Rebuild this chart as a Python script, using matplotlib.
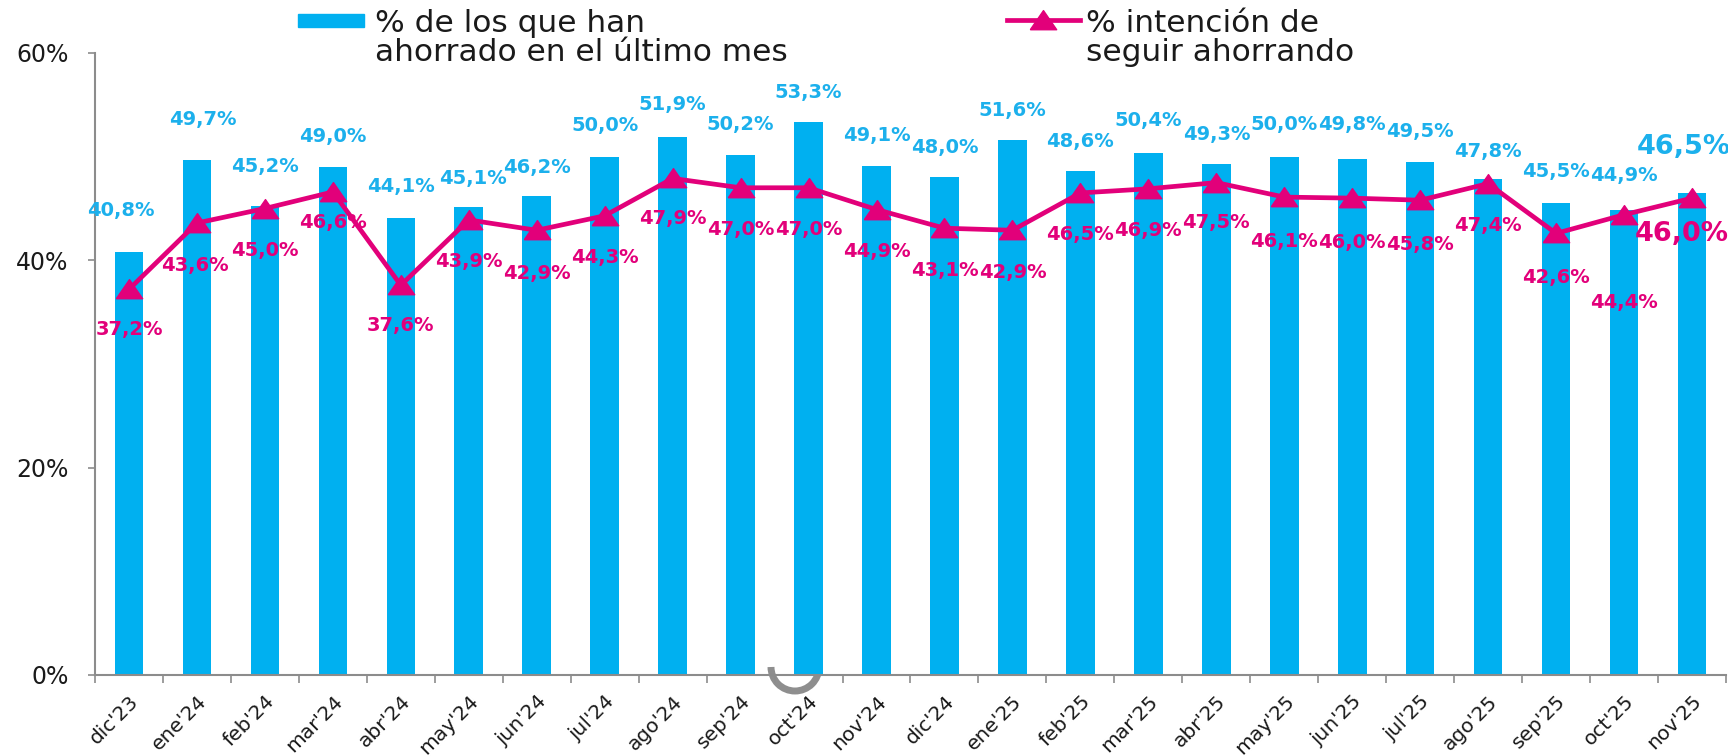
import matplotlib
matplotlib.use("Agg")
import matplotlib.pyplot as plt
from matplotlib.patches import Rectangle, Arc
from matplotlib.lines import Line2D
from matplotlib.transforms import IdentityTransform

# ---- data ----
categories = ["dic'23", "ene'24", "feb'24", "mar'24", "abr'24", "may'24", "jun'24",
              "jul'24", "ago'24", "sep'24", "oct'24", "nov'24", "dic'24", "ene'25",
              "feb'25", "mar'25", "abr'25", "may'25", "jun'25", "jul'25", "ago'25",
              "sep'25", "oct'25", "nov'25"]
ahorrado = [40.8, 49.7, 45.2, 49.0, 44.1, 45.1, 46.2, 50.0, 51.9, 50.2, 53.3, 49.1,
            48.0, 51.6, 48.6, 50.4, 49.3, 50.0, 49.8, 49.5, 47.8, 45.5, 44.9, 46.5]
intencion = [37.2, 43.6, 45.0, 46.6, 37.6, 43.9, 42.9, 44.3, 47.9, 47.0, 47.0, 44.9,
             43.1, 42.9, 46.5, 46.9, 47.5, 46.1, 46.0, 45.8, 47.4, 42.6, 44.4, 46.0]
yticks = [0, 20, 40, 60]
ytick_labels = ["0%", "20%", "40%", "60%"]
legend_bar = "% de los que han\nahorrado en el último mes"
legend_line = "% intención de\nseguir ahorrando"

# ---- style ----
BAR_C = "#00B0F0"
LINE_C = "#E2007A"
LBL_C = "#1CB0EC"
AXIS_C = "#8C8C8C"
TRI = [(-1, -0.7), (1, -0.7), (0, 0.75), (-1, -0.7)]

def fmt(v):
    return f"{v:.1f}%".replace(".", ",")

W, H = 1728, 756
fig = plt.figure(figsize=(W / 100, H / 100), dpi=100)
ax_l, ax_r, ax_t, ax_b = 95, 1726, 53, 675
ax = fig.add_axes([ax_l / W, 1 - ax_b / H, (ax_r - ax_l) / W, (ax_b - ax_t) / H])

x = list(range(len(categories)))
ax.bar(x, ahorrado, width=0.42, color=BAR_C, zorder=2)
ax.plot(x, intencion, color=LINE_C, lw=3.4, marker=TRI, markersize=19,
        markeredgecolor=LINE_C, zorder=3, clip_on=False)

ax.set_xlim(-0.5, len(categories) - 0.5)
ax.set_ylim(0, 60)

for s in ["top", "right"]:
    ax.spines[s].set_visible(False)
for s in ["left", "bottom"]:
    ax.spines[s].set_color(AXIS_C)
    ax.spines[s].set_linewidth(1.5)

ax.set_yticks(yticks)
ax.set_yticklabels(ytick_labels, fontsize=17, color="#1a1a1a")
ax.tick_params(axis="y", length=5, width=1.2, color=AXIS_C, pad=14)

ax.set_xticks(x)
ax.set_xticklabels(categories, rotation=45, ha="right", va="top",
                   rotation_mode="anchor", fontsize=14.5, color="#1a1a1a")
ax.tick_params(axis="x", which="major", length=0, pad=12)
ax.set_xticks([i - 0.5 for i in range(len(categories) + 1)], minor=True)
ax.tick_params(axis="x", which="minor", length=6, width=1.2, color=AXIS_C)

# ---- data labels ----
bar_dy = [42, 40, 40, 31, 31, 29, 29, 31, 32, 30, 30, 30,
          30, 30, 30, 32, 29, 32, 34, 30, 28, 32, 34, 46]
bar_dx = [-8, 6, 0, 0, 0, 4, 0, 0, 0, 0, 0, 0,
          0, 0, 0, 0, 0, 0, 0, 0, 0, 0, 0, -8]
line_dy = [40, 42, 42, 31, 40, 42, 43, 42, 40, 42, 42, 42,
           42, 42, 42, 42, 40, 44, 44, 44, 42, 44, 88, 36]
line_dx = [0, -2, 0, 0, 0, 0, 0, 0, 0, 0, 0, 0,
           0, 0, 0, 0, 0, 0, 0, 0, 0, 0, 0, -10]

n = len(categories)
for i in range(n):
    big = (i == n - 1)
    fs = 19.5 if big else 14
    ax.annotate(fmt(ahorrado[i]), (x[i], ahorrado[i]), xytext=(bar_dx[i], bar_dy[i]),
                textcoords="offset pixels", ha="center", va="center",
                fontsize=fs, fontweight="bold", color=LBL_C, annotation_clip=False, zorder=5)
    ax.annotate(fmt(intencion[i]), (x[i], intencion[i]), xytext=(line_dx[i], -line_dy[i]),
                textcoords="offset pixels", ha="center", va="center",
                fontsize=fs, fontweight="bold", color=LINE_C, annotation_clip=False, zorder=5)

# ---- legend (manual) ----
fig.patches.append(Rectangle((298 / W, 1 - 27 / H), 66 / W, 13 / H,
                             transform=fig.transFigure, color=BAR_C))
fig.text(375 / W, 1 - 38 / H, legend_bar, fontsize=22.5, color="#1a1a1a",
         ha="left", va="center", linespacing=1.0)
fig.lines.append(Line2D([1007 / W, 1080 / W], [1 - 20 / H, 1 - 20 / H],
                        transform=fig.transFigure, color=LINE_C, lw=3.4))
fig.lines.append(Line2D([1043 / W], [1 - 20 / H], transform=fig.transFigure,
                        color=LINE_C, marker=TRI, markersize=19, lw=0))
fig.text(1086 / W, 1 - 38 / H, legend_line, fontsize=22.5, color="#1a1a1a",
         ha="left", va="center", linespacing=1.0)

# grey ring artifact under oct'24 (display pixel coords, origin bottom-left)
ring = Arc((795, H - 667), 48, 48, theta1=180, theta2=360,
           transform=IdentityTransform(), color="#8E8E8E", lw=5, zorder=1,
           clip_on=False)
ax.add_artist(ring)

fig.savefig("out.png", dpi=100)
